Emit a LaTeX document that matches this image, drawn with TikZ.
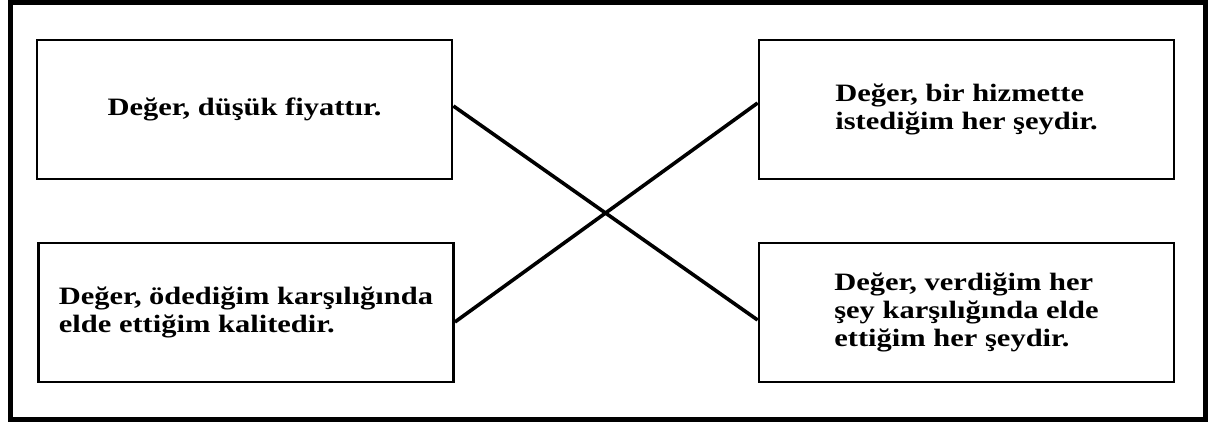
\documentclass[tikz,border=0pt]{standalone}
\usepackage{fontspec}
\newfontfamily\boxfont{Liberation Serif}[FakeStretch=1.22]
\begin{document}
\begin{tikzpicture}[x=0.5pt,y=-0.5pt,
    kutu/.style={draw,line width=1.4pt,minimum width=207.5pt,minimum height=69.5pt,
      inner sep=0pt,align=left,font=\boxfont\bfseries\fontsize{12.5}{14.2}\selectfont},
    cizgi/.style={line width=1.8pt}]
    \useasboundingbox (0,0) rectangle (1208,423);
    \draw[line width=2.5pt] (10,2) rectangle (1205.5,419.5);
    \node[kutu] (fiyat) at (244.5,109.5) {Değer, düşük fiyattır.};
    \node[kutu] (kalite) at (246,312.5) {Değer, ödediğim karşılığında\\elde ettiğim kalitedir.};
    \node[kutu] (hizmet) at (966.5,109.5) {Değer, bir hizmette\\istediğim her şeydir.};
    \node[kutu] (hersey) at (966.5,312.5) {Değer, verdiğim her\\şey karşılığında elde\\ettiğim her şeydir.};
    \draw[cizgi] ([yshift=1.75pt]fiyat.east) -- ([yshift=-3.75pt]hersey.west);
    \draw[cizgi] ([yshift=-4.75pt]kalite.east) -- ([yshift=3.25pt]hizmet.west);
\end{tikzpicture}
\end{document}
